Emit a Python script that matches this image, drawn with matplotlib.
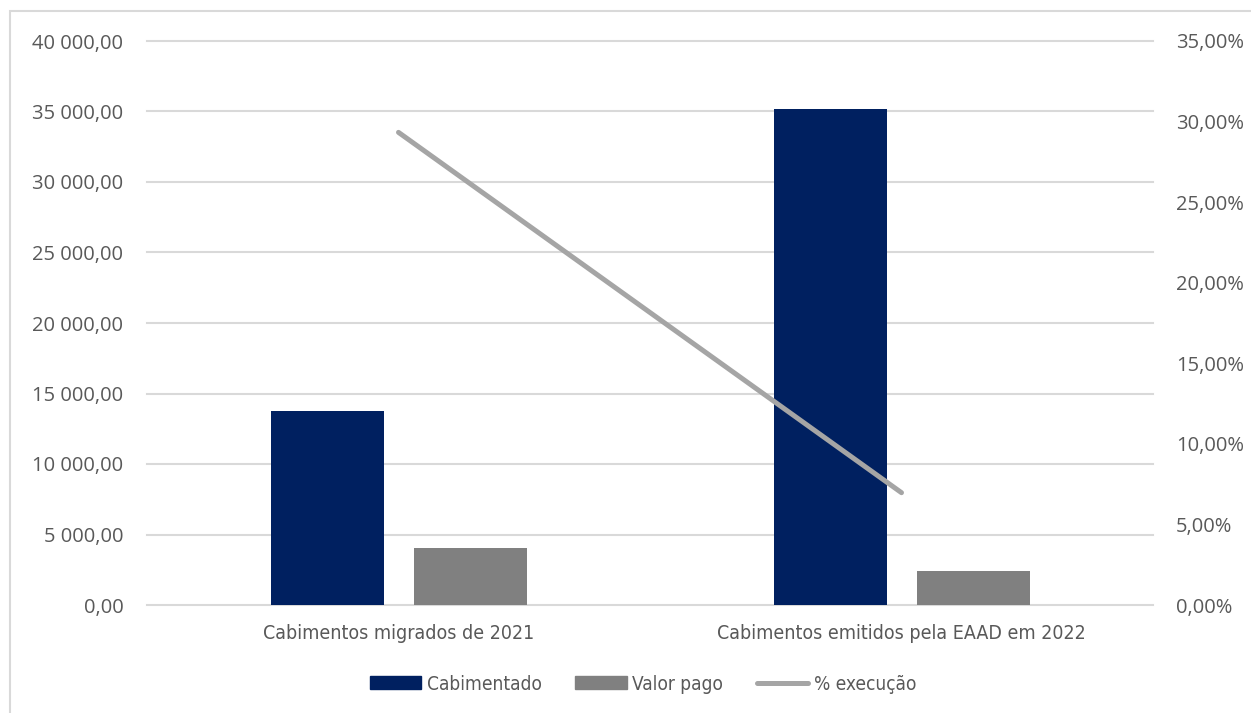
import numpy as np
import matplotlib
matplotlib.use('Agg')
import matplotlib.pyplot as plt
from matplotlib.patches import Patch, Rectangle
from matplotlib.lines import Line2D
from matplotlib.ticker import FuncFormatter, MultipleLocator

categorias = ['Cabimentos migrados de 2021', 'Cabimentos emitidos pela EAAD em 2022']
cabimentado = [13780, 35160]
valor_pago = [4010, 2390]
execucao = [0.2933, 0.0697]

azul = '#002060'
cinza = '#808080'
cinza_linha = '#a5a5a5'
texto = '#595959'
grelha = '#d9d9d9'

fig = plt.figure(figsize=(12.51, 7.13), dpi=100)
W, H = 1251, 713
ax = fig.add_axes([147 / W, (H - 605) / H, (1153 - 147) / W, (605 - 41) / H])
ax2 = ax.twinx()

# moldura do grafico (cortada a direita e em baixo)
fig.patches.append(Rectangle((10 / W, -0.05), 1.1, (H - 11) / H + 0.05,
                             transform=fig.transFigure, fill=False,
                             edgecolor='#d9d9d9', linewidth=1.5))

x = np.arange(len(categorias))
largura = 113 / 503
desvio = (113 + 30) / 2 / 503

ax.bar(x - desvio, cabimentado, largura, color=azul, zorder=3)
ax.bar(x + desvio, valor_pago, largura, color=cinza, zorder=3)
ax2.plot(x, execucao, color=cinza_linha, linewidth=3.6, solid_capstyle='round', zorder=4)

ax.set_xlim(-0.5, 1.5)
ax.set_ylim(0, 40000)
ax2.set_ylim(0, 0.35)
ax.yaxis.set_major_locator(MultipleLocator(5000))
ax2.yaxis.set_major_locator(MultipleLocator(0.05))

def fmt_euros(v, pos):
    return '{:,.2f}'.format(v).replace(',', ' ').replace('.', ',')

def fmt_pct(v, pos):
    return '{:.2f}%'.format(v * 100).replace('.', ',')

ax.yaxis.set_major_formatter(FuncFormatter(fmt_euros))
ax2.yaxis.set_major_formatter(FuncFormatter(fmt_pct))

ax.grid(axis='y', color=grelha, linewidth=1.5, zorder=0)
ax.set_axisbelow(True)
for g in ax.get_ygridlines():
    g.set_clip_on(False)
for a in (ax, ax2):
    for s in a.spines.values():
        s.set_visible(False)
    a.tick_params(length=0, colors=texto)

fonte_cat = {'family': 'DejaVu Sans', 'stretch': 'condensed', 'size': 14}
fonte_leg = {'family': 'DejaVu Sans', 'stretch': 'condensed', 'size': 13.7}

ax.set_xticks(x)
ax.set_xticklabels(categorias, fontdict=fonte_cat, color=texto)
ax.tick_params(axis='x', pad=14)
for lab in ax.get_yticklabels() + ax2.get_yticklabels():
    lab.set_fontsize(14.5)
    lab.set_family('Open Sans')
ax.tick_params(axis='y', pad=17)
ax2.tick_params(axis='y', pad=16.5)

handles = [Patch(color=azul), Patch(color=cinza),
           Line2D([0], [0], color=cinza_linha, linewidth=3.6, solid_capstyle='round')]
nomes = ['Cabimentado', 'Valor pago', '% execução']
fig.legend(handles, nomes, loc='center', bbox_to_anchor=(643 / W, (H - 684) / H), ncol=3,
           frameon=False, handlelength=2.7, handleheight=0.69, handletextpad=0.3, columnspacing=1.75,
           prop=fonte_leg, labelcolor=texto)

fig.savefig('out.png', dpi=100)
